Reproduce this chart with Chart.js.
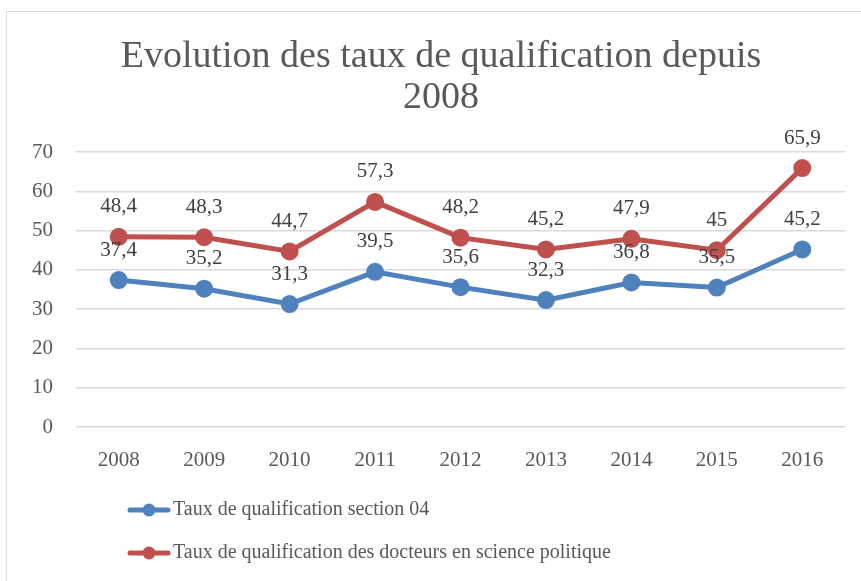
<!DOCTYPE html>
<html>
<head>
<meta charset="utf-8">
<script src="https://cdn.jsdelivr.net/npm/chart.js@4"></script>
<style>
  html, body { margin: 0; padding: 0; background: #fff; }
  #wrap { position: relative; width: 861px; height: 581px; overflow: hidden; }
</style>
</head>
<body>
<div id="wrap"><canvas id="chart" width="861" height="581"></canvas></div>
<script>
// données
var years = ["2008", "2009", "2010", "2011", "2012", "2013", "2014", "2015", "2016"];
var section04 = [37.4, 35.2, 31.3, 39.5, 35.6, 32.3, 36.8, 35.5, 45.2];
var sciencePo = [48.4, 48.3, 44.7, 57.3, 48.2, 45.2, 47.9, 45, 65.9];
var seriesNames = ["Taux de qualification section 04", "Taux de qualification des docteurs en science politique"];
var titleLines = ["Evolution des taux de qualification depuis", "2008"];

var FONT = "'Liberation Serif', 'DejaVu Serif', serif";
var BLUE = "#4f81bd";
var RED = "#c0504d";

// cadre, titre, étiquettes et légende
var decorPlugin = {
  id: "decor",
  beforeDraw: function(chart) {
    var ctx = chart.ctx;
    ctx.save();
    ctx.fillStyle = "#fff";
    ctx.fillRect(0, 0, chart.width, chart.height);
    ctx.strokeStyle = "#d9d9d9";
    ctx.lineWidth = 1;
    ctx.strokeRect(6.5, 11.5, 1000, 1000);
    ctx.fillStyle = "#595959";
    ctx.font = "38px " + FONT;
    ctx.textAlign = "center";
    ctx.textBaseline = "middle";
    ctx.fillText(titleLines[0], 441, 57);
    ctx.fillText(titleLines[1], 441, 98);
    ctx.restore();
  },
  afterDatasetsDraw: function(chart) {
    var ctx = chart.ctx;
    ctx.save();
    ctx.font = "21px " + FONT;
    ctx.fillStyle = "#404040";
    ctx.textAlign = "center";
    ctx.textBaseline = "middle";
    chart.data.datasets.forEach(function(ds, i) {
      var meta = chart.getDatasetMeta(i);
      meta.data.forEach(function(pt, j) {
        ctx.fillText(String(ds.data[j]).replace(".", ","), pt.x, pt.y - 30);
      });
    });
    // légende
    var rows = [510, 553];
    chart.data.datasets.forEach(function(ds, i) {
      var y = rows[i];
      ctx.strokeStyle = ds.borderColor;
      ctx.lineWidth = 5;
      ctx.lineCap = "round";
      ctx.beginPath();
      ctx.moveTo(130, y);
      ctx.lineTo(168, y);
      ctx.stroke();
      ctx.fillStyle = ds.borderColor;
      ctx.beginPath();
      ctx.arc(149, y, 6.5, 0, Math.PI * 2);
      ctx.fill();
      ctx.fillStyle = "#595959";
      ctx.font = "20px " + FONT;
      ctx.textAlign = "left";
      ctx.fillText(ds.label, 173, y);
    });
    ctx.restore();
  }
};

new Chart(document.getElementById("chart"), {
  type: "line",
  data: {
    labels: years,
    datasets: [{
      label: seriesNames[0],
      data: section04,
      borderColor: BLUE,
      backgroundColor: BLUE,
      borderWidth: 5,
      pointRadius: 6.5,
      pointBackgroundColor: BLUE,
      pointBorderColor: BLUE,
      tension: 0
    }, {
      label: seriesNames[1],
      data: sciencePo,
      borderColor: RED,
      backgroundColor: RED,
      borderWidth: 5,
      pointRadius: 6.5,
      pointBackgroundColor: RED,
      pointBorderColor: RED,
      tension: 0
    }]
  },
  options: {
    responsive: false,
    animation: false,
    layout: { padding: { left: 0, top: 152, right: 16, bottom: 104 } },
    plugins: {
      legend: { display: false },
      title: { display: false },
      tooltip: { enabled: false }
    },
    scales: {
      x: {
        offset: true,
        grid: { display: false, offset: true },
        border: { display: false },
        ticks: { color: "#595959", font: { family: FONT, size: 21 }, padding: 13, maxRotation: 0 },
        afterFit: function(s) { s.height = 50; }
      },
      y: {
        min: 0, max: 70,
        grid: { color: "#d9d9d9", lineWidth: 1.5, drawTicks: false },
        border: { display: false },
        ticks: { stepSize: 10, color: "#595959", font: { family: FONT, size: 21 }, padding: 23 },
        afterFit: function(s) { s.width = 76; }
      }
    }
  },
  plugins: [decorPlugin]
});
</script>
</body>
</html>
